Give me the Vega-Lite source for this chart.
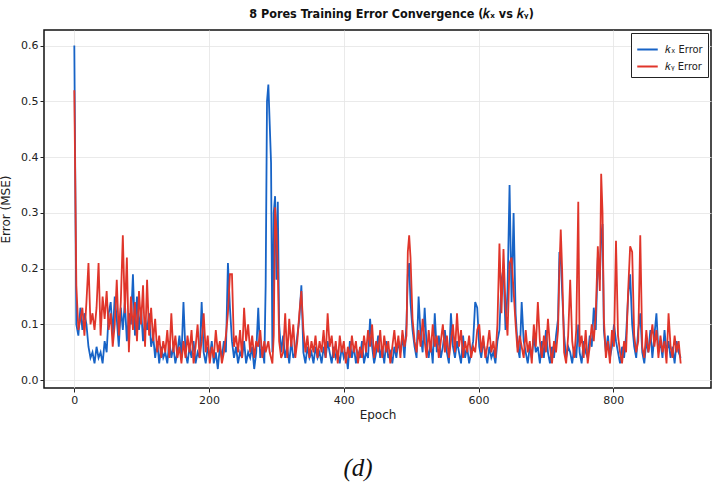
{
  "$schema": "https://vega.github.io/schema/vega-lite/v6.json",
  "autosize": {"type": "none"},
  "width": 667,
  "height": 358,
  "padding": {"left": 44, "top": 30, "right": 9, "bottom": 98},
  "background": "white",
  "title": {
    "text": "8 Pores Training Error Convergence (𝑘ₓ vs 𝑘ᵧ)",
    "font": "DejaVu Sans Condensed, DejaVu Sans",
    "fontSize": 12.5,
    "fontWeight": "bold",
    "color": "#111111",
    "anchor": "middle",
    "dx": 14,
    "offset": 10
  },
  "config": {
    "view": {"stroke": "#111111", "strokeWidth": 1.5},
    "axis": {
      "labelFont": "DejaVu Sans",
      "titleFont": "DejaVu Sans",
      "labelFontSize": 11,
      "titleFontSize": 12,
      "titleFontWeight": "normal",
      "labelColor": "#222222",
      "titleColor": "#222222",
      "domain": false,
      "tickColor": "#222222",
      "tickSize": 4,
      "gridColor": "#e4e4e4",
      "gridWidth": 0.8
    }
  },
  "data": {
    "values": [
      {"e":0,"kx":0.60,"ky":0.52},{"e":3,"kx":0.10,"ky":0.17},{"e":6,"kx":0.08,"ky":0.09},{"e":9,"kx":0.13,"ky":0.11},
      {"e":12,"kx":0.09,"ky":0.13},{"e":15,"kx":0.12,"ky":0.08},{"e":18,"kx":0.10,"ky":0.14},{"e":21,"kx":0.06,"ky":0.21},
      {"e":24,"kx":0.04,"ky":0.10},{"e":27,"kx":0.05,"ky":0.12},{"e":30,"kx":0.03,"ky":0.09},{"e":33,"kx":0.06,"ky":0.13},
      {"e":36,"kx":0.04,"ky":0.21},{"e":39,"kx":0.05,"ky":0.08},{"e":42,"kx":0.03,"ky":0.15},{"e":45,"kx":0.07,"ky":0.11},
      {"e":48,"kx":0.05,"ky":0.16},{"e":51,"kx":0.12,"ky":0.09},{"e":54,"kx":0.14,"ky":0.12},{"e":57,"kx":0.08,"ky":0.06},
      {"e":60,"kx":0.15,"ky":0.10},{"e":63,"kx":0.11,"ky":0.18},{"e":66,"kx":0.06,"ky":0.08},{"e":69,"kx":0.13,"ky":0.14},
      {"e":72,"kx":0.09,"ky":0.26},{"e":75,"kx":0.14,"ky":0.12},{"e":78,"kx":0.07,"ky":0.22},{"e":81,"kx":0.12,"ky":0.05},
      {"e":84,"kx":0.10,"ky":0.15},{"e":87,"kx":0.19,"ky":0.09},{"e":90,"kx":0.08,"ky":0.14},{"e":93,"kx":0.15,"ky":0.07},
      {"e":96,"kx":0.09,"ky":0.16},{"e":99,"kx":0.13,"ky":0.10},{"e":102,"kx":0.07,"ky":0.17},{"e":105,"kx":0.11,"ky":0.06},
      {"e":108,"kx":0.09,"ky":0.18},{"e":111,"kx":0.12,"ky":0.08},{"e":114,"kx":0.06,"ky":0.13},{"e":117,"kx":0.08,"ky":0.07},
      {"e":120,"kx":0.04,"ky":0.11},{"e":123,"kx":0.07,"ky":0.05},{"e":126,"kx":0.03,"ky":0.08},{"e":129,"kx":0.06,"ky":0.04},
      {"e":132,"kx":0.04,"ky":0.07},{"e":135,"kx":0.05,"ky":0.05},{"e":138,"kx":0.03,"ky":0.09},{"e":141,"kx":0.07,"ky":0.04},
      {"e":144,"kx":0.04,"ky":0.12},{"e":147,"kx":0.06,"ky":0.05},{"e":150,"kx":0.03,"ky":0.08},{"e":153,"kx":0.05,"ky":0.04},
      {"e":156,"kx":0.08,"ky":0.06},{"e":159,"kx":0.04,"ky":0.03},{"e":162,"kx":0.14,"ky":0.07},{"e":165,"kx":0.05,"ky":0.04},
      {"e":168,"kx":0.03,"ky":0.08},{"e":171,"kx":0.06,"ky":0.05},{"e":174,"kx":0.04,"ky":0.09},{"e":177,"kx":0.07,"ky":0.03},
      {"e":180,"kx":0.03,"ky":0.06},{"e":183,"kx":0.05,"ky":0.10},{"e":186,"kx":0.04,"ky":0.04},{"e":189,"kx":0.14,"ky":0.07},
      {"e":192,"kx":0.05,"ky":0.12},{"e":195,"kx":0.03,"ky":0.05},{"e":198,"kx":0.06,"ky":0.08},{"e":201,"kx":0.04,"ky":0.03},
      {"e":204,"kx":0.07,"ky":0.06},{"e":207,"kx":0.03,"ky":0.04},{"e":210,"kx":0.05,"ky":0.09},{"e":213,"kx":0.02,"ky":0.05},
      {"e":216,"kx":0.06,"ky":0.07},{"e":219,"kx":0.04,"ky":0.03},{"e":222,"kx":0.07,"ky":0.05},{"e":225,"kx":0.05,"ky":0.08},
      {"e":228,"kx":0.21,"ky":0.12},{"e":231,"kx":0.13,"ky":0.19},{"e":234,"kx":0.07,"ky":0.19},{"e":237,"kx":0.04,"ky":0.06},
      {"e":240,"kx":0.06,"ky":0.08},{"e":243,"kx":0.03,"ky":0.05},{"e":246,"kx":0.05,"ky":0.09},{"e":249,"kx":0.04,"ky":0.04},
      {"e":252,"kx":0.07,"ky":0.13},{"e":255,"kx":0.03,"ky":0.07},{"e":258,"kx":0.05,"ky":0.10},{"e":261,"kx":0.04,"ky":0.05},
      {"e":264,"kx":0.06,"ky":0.08},{"e":267,"kx":0.02,"ky":0.04},{"e":270,"kx":0.05,"ky":0.07},{"e":273,"kx":0.13,"ky":0.06},
      {"e":276,"kx":0.04,"ky":0.09},{"e":279,"kx":0.06,"ky":0.04},{"e":282,"kx":0.03,"ky":0.07},{"e":284,"kx":0.17,"ky":0.05},
      {"e":286,"kx":0.50,"ky":0.06},{"e":288,"kx":0.53,"ky":0.07},{"e":290,"kx":0.46,"ky":0.05},{"e":292,"kx":0.39,"ky":0.04},
      {"e":294,"kx":0.05,"ky":0.03},{"e":296,"kx":0.30,"ky":0.08},{"e":298,"kx":0.33,"ky":0.31},{"e":300,"kx":0.18,"ky":0.27},
      {"e":302,"kx":0.32,"ky":0.20},{"e":304,"kx":0.10,"ky":0.07},{"e":307,"kx":0.05,"ky":0.04},{"e":310,"kx":0.08,"ky":0.05},
      {"e":313,"kx":0.04,"ky":0.12},{"e":316,"kx":0.06,"ky":0.04},{"e":319,"kx":0.03,"ky":0.11},{"e":322,"kx":0.07,"ky":0.06},
      {"e":325,"kx":0.04,"ky":0.10},{"e":328,"kx":0.05,"ky":0.04},{"e":331,"kx":0.08,"ky":0.07},{"e":334,"kx":0.11,"ky":0.12},
      {"e":337,"kx":0.17,"ky":0.16},{"e":340,"kx":0.05,"ky":0.09},{"e":343,"kx":0.03,"ky":0.05},{"e":346,"kx":0.06,"ky":0.08},
      {"e":349,"kx":0.04,"ky":0.04},{"e":352,"kx":0.05,"ky":0.07},{"e":355,"kx":0.03,"ky":0.05},{"e":358,"kx":0.06,"ky":0.08},
      {"e":361,"kx":0.04,"ky":0.04},{"e":364,"kx":0.05,"ky":0.07},{"e":367,"kx":0.03,"ky":0.05},{"e":370,"kx":0.06,"ky":0.09},
      {"e":373,"kx":0.04,"ky":0.04},{"e":376,"kx":0.07,"ky":0.12},{"e":379,"kx":0.05,"ky":0.06},{"e":382,"kx":0.03,"ky":0.08},
      {"e":385,"kx":0.06,"ky":0.04},{"e":388,"kx":0.04,"ky":0.07},{"e":391,"kx":0.05,"ky":0.03},{"e":394,"kx":0.03,"ky":0.08},
      {"e":397,"kx":0.06,"ky":0.05},{"e":400,"kx":0.04,"ky":0.07},{"e":403,"kx":0.05,"ky":0.03},{"e":406,"kx":0.02,"ky":0.06},
      {"e":409,"kx":0.07,"ky":0.04},{"e":412,"kx":0.04,"ky":0.08},{"e":415,"kx":0.06,"ky":0.05},{"e":418,"kx":0.03,"ky":0.07},
      {"e":421,"kx":0.05,"ky":0.03},{"e":424,"kx":0.04,"ky":0.06},{"e":427,"kx":0.07,"ky":0.04},{"e":430,"kx":0.03,"ky":0.08},
      {"e":433,"kx":0.05,"ky":0.05},{"e":436,"kx":0.04,"ky":0.09},{"e":439,"kx":0.11,"ky":0.06},{"e":442,"kx":0.06,"ky":0.10},
      {"e":445,"kx":0.03,"ky":0.04},{"e":448,"kx":0.05,"ky":0.07},{"e":451,"kx":0.08,"ky":0.05},{"e":454,"kx":0.04,"ky":0.09},
      {"e":457,"kx":0.06,"ky":0.04},{"e":460,"kx":0.03,"ky":0.08},{"e":463,"kx":0.07,"ky":0.05},{"e":466,"kx":0.04,"ky":0.07},
      {"e":469,"kx":0.05,"ky":0.03},{"e":472,"kx":0.03,"ky":0.06},{"e":475,"kx":0.06,"ky":0.09},{"e":478,"kx":0.04,"ky":0.05},
      {"e":481,"kx":0.07,"ky":0.08},{"e":484,"kx":0.05,"ky":0.04},{"e":487,"kx":0.08,"ky":0.09},{"e":490,"kx":0.04,"ky":0.06},
      {"e":493,"kx":0.10,"ky":0.08},{"e":495,"kx":0.19,"ky":0.23},{"e":497,"kx":0.21,"ky":0.26},{"e":499,"kx":0.14,"ky":0.22},
      {"e":502,"kx":0.09,"ky":0.11},{"e":505,"kx":0.06,"ky":0.07},{"e":508,"kx":0.04,"ky":0.05},{"e":511,"kx":0.15,"ky":0.09},
      {"e":514,"kx":0.08,"ky":0.06},{"e":517,"kx":0.05,"ky":0.11},{"e":520,"kx":0.13,"ky":0.07},{"e":523,"kx":0.06,"ky":0.04},
      {"e":526,"kx":0.04,"ky":0.09},{"e":529,"kx":0.07,"ky":0.05},{"e":532,"kx":0.03,"ky":0.10},{"e":535,"kx":0.12,"ky":0.06},
      {"e":538,"kx":0.05,"ky":0.08},{"e":541,"kx":0.08,"ky":0.04},{"e":544,"kx":0.04,"ky":0.07},{"e":547,"kx":0.06,"ky":0.10},
      {"e":550,"kx":0.09,"ky":0.05},{"e":553,"kx":0.05,"ky":0.08},{"e":556,"kx":0.03,"ky":0.04},{"e":559,"kx":0.12,"ky":0.07},
      {"e":562,"kx":0.06,"ky":0.10},{"e":565,"kx":0.04,"ky":0.05},{"e":568,"kx":0.07,"ky":0.12},{"e":571,"kx":0.05,"ky":0.06},
      {"e":574,"kx":0.03,"ky":0.09},{"e":577,"kx":0.08,"ky":0.04},{"e":580,"kx":0.04,"ky":0.07},{"e":583,"kx":0.06,"ky":0.05},
      {"e":586,"kx":0.03,"ky":0.08},{"e":589,"kx":0.05,"ky":0.04},{"e":592,"kx":0.07,"ky":0.06},{"e":595,"kx":0.14,"ky":0.05},
      {"e":598,"kx":0.13,"ky":0.09},{"e":601,"kx":0.06,"ky":0.10},{"e":604,"kx":0.04,"ky":0.05},{"e":607,"kx":0.07,"ky":0.08},
      {"e":610,"kx":0.05,"ky":0.04},{"e":613,"kx":0.03,"ky":0.06},{"e":616,"kx":0.06,"ky":0.09},{"e":619,"kx":0.04,"ky":0.05},
      {"e":622,"kx":0.05,"ky":0.07},{"e":625,"kx":0.03,"ky":0.04},{"e":628,"kx":0.07,"ky":0.10},{"e":631,"kx":0.09,"ky":0.245},
      {"e":634,"kx":0.18,"ky":0.12},{"e":637,"kx":0.20,"ky":0.235},{"e":640,"kx":0.09,"ky":0.13},{"e":643,"kx":0.16,"ky":0.08},
      {"e":646,"kx":0.35,"ky":0.21},{"e":649,"kx":0.14,"ky":0.22},{"e":652,"kx":0.30,"ky":0.16},{"e":655,"kx":0.12,"ky":0.10},
      {"e":658,"kx":0.06,"ky":0.05},{"e":661,"kx":0.04,"ky":0.08},{"e":664,"kx":0.14,"ky":0.06},{"e":667,"kx":0.07,"ky":0.04},
      {"e":670,"kx":0.05,"ky":0.09},{"e":673,"kx":0.03,"ky":0.05},{"e":676,"kx":0.06,"ky":0.07},{"e":679,"kx":0.04,"ky":0.03},
      {"e":682,"kx":0.08,"ky":0.10},{"e":685,"kx":0.05,"ky":0.06},{"e":688,"kx":0.06,"ky":0.14},{"e":691,"kx":0.03,"ky":0.07},
      {"e":694,"kx":0.07,"ky":0.04},{"e":697,"kx":0.04,"ky":0.08},{"e":700,"kx":0.09,"ky":0.05},{"e":703,"kx":0.05,"ky":0.11},
      {"e":706,"kx":0.03,"ky":0.06},{"e":709,"kx":0.06,"ky":0.03},{"e":712,"kx":0.04,"ky":0.07},{"e":715,"kx":0.08,"ky":0.05},
      {"e":718,"kx":0.11,"ky":0.09},{"e":720,"kx":0.23,"ky":0.20},{"e":722,"kx":0.22,"ky":0.27},{"e":724,"kx":0.16,"ky":0.20},
      {"e":727,"kx":0.08,"ky":0.05},{"e":730,"kx":0.04,"ky":0.03},{"e":733,"kx":0.06,"ky":0.08},{"e":736,"kx":0.05,"ky":0.18},
      {"e":739,"kx":0.03,"ky":0.07},{"e":742,"kx":0.06,"ky":0.04},{"e":745,"kx":0.04,"ky":0.09},{"e":748,"kx":0.10,"ky":0.32},
      {"e":750,"kx":0.05,"ky":0.06},{"e":753,"kx":0.03,"ky":0.08},{"e":756,"kx":0.07,"ky":0.04},{"e":759,"kx":0.05,"ky":0.09},
      {"e":762,"kx":0.04,"ky":0.03},{"e":765,"kx":0.08,"ky":0.06},{"e":768,"kx":0.06,"ky":0.10},{"e":771,"kx":0.13,"ky":0.07},
      {"e":774,"kx":0.09,"ky":0.12},{"e":777,"kx":0.22,"ky":0.24},{"e":780,"kx":0.18,"ky":0.16},{"e":782,"kx":0.26,"ky":0.37},
      {"e":784,"kx":0.28,"ky":0.30},{"e":786,"kx":0.09,"ky":0.11},{"e":789,"kx":0.05,"ky":0.04},{"e":792,"kx":0.08,"ky":0.07},
      {"e":795,"kx":0.04,"ky":0.03},{"e":798,"kx":0.06,"ky":0.09},{"e":801,"kx":0.10,"ky":0.06},{"e":804,"kx":0.07,"ky":0.25},
      {"e":807,"kx":0.05,"ky":0.08},{"e":810,"kx":0.03,"ky":0.05},{"e":813,"kx":0.06,"ky":0.03},{"e":816,"kx":0.04,"ky":0.07},
      {"e":819,"kx":0.08,"ky":0.05},{"e":822,"kx":0.15,"ky":0.16},{"e":825,"kx":0.19,"ky":0.24},{"e":828,"kx":0.10,"ky":0.23},
      {"e":831,"kx":0.06,"ky":0.08},{"e":834,"kx":0.04,"ky":0.05},{"e":837,"kx":0.09,"ky":0.07},{"e":840,"kx":0.12,"ky":0.26},
      {"e":843,"kx":0.05,"ky":0.06},{"e":846,"kx":0.03,"ky":0.04},{"e":849,"kx":0.07,"ky":0.09},{"e":852,"kx":0.05,"ky":0.05},
      {"e":855,"kx":0.09,"ky":0.07},{"e":858,"kx":0.04,"ky":0.10},{"e":861,"kx":0.08,"ky":0.06},{"e":864,"kx":0.12,"ky":0.09},
      {"e":867,"kx":0.05,"ky":0.04},{"e":870,"kx":0.07,"ky":0.08},{"e":873,"kx":0.04,"ky":0.05},{"e":876,"kx":0.09,"ky":0.07},
      {"e":879,"kx":0.05,"ky":0.03},{"e":882,"kx":0.07,"ky":0.12},{"e":885,"kx":0.04,"ky":0.06},{"e":888,"kx":0.06,"ky":0.04},
      {"e":891,"kx":0.03,"ky":0.08},{"e":894,"kx":0.07,"ky":0.05},{"e":897,"kx":0.05,"ky":0.07},{"e":900,"kx":0.04,"ky":0.03}
    ]
  },
  "layer": [
    {
      "transform": [{"fold": ["kx", "ky"], "as": ["series", "err"]}],
      "mark": {"type": "line", "strokeWidth": 1.8, "interpolate": "linear"},
      "encoding": {
        "x": {
          "field": "e", "type": "quantitative",
          "scale": {"domain": [-45, 945], "nice": false, "zero": false},
          "axis": {"values": [0, 200, 400, 600, 800], "title": "Epoch", "titlePadding": 4}
        },
        "y": {
          "field": "err", "type": "quantitative",
          "scale": {"domain": [-0.014, 0.628], "nice": false, "zero": false},
          "axis": {"values": [0, 0.1, 0.2, 0.3, 0.4, 0.5, 0.6], "format": ".1f", "title": "Error (MSE)", "titlePadding": 8}
        },
        "color": {
          "field": "series", "type": "nominal",
          "scale": {"domain": ["kx", "ky"], "range": ["#1763c6", "#e0352a"]},
          "legend": {
            "title": null,
            "orient": "top-right",
            "offset": 3,
            "symbolType": "stroke",
            "symbolSize": 420,
            "symbolStrokeWidth": 2,
            "labelFont": "DejaVu Sans Condensed, DejaVu Sans",
            "labelFontSize": 11,
            "labelColor": "#222222",
            "labelOffset": 6,
            "rowPadding": 0,
            "padding": 5,
            "strokeColor": "#222222",
            "fillColor": "white",
            "labelExpr": "datum.label == 'kx' ? '𝑘ₓ Error' : '𝑘ᵧ Error'"
          }
        }
      }
    },
    {
      "data": {"values": [{"caption": "(d)", "cx": 421, "cy": -0.1575}]},
      "mark": {"type": "text", "font": "Liberation Serif", "fontStyle": "italic", "fontSize": 25, "color": "#111111", "clip": false, "baseline": "middle", "align": "center"},
      "encoding": {
        "x": {"field": "cx", "type": "quantitative"},
        "y": {"field": "cy", "type": "quantitative"},
        "text": {"field": "caption"}
      }
    }
  ]
}
